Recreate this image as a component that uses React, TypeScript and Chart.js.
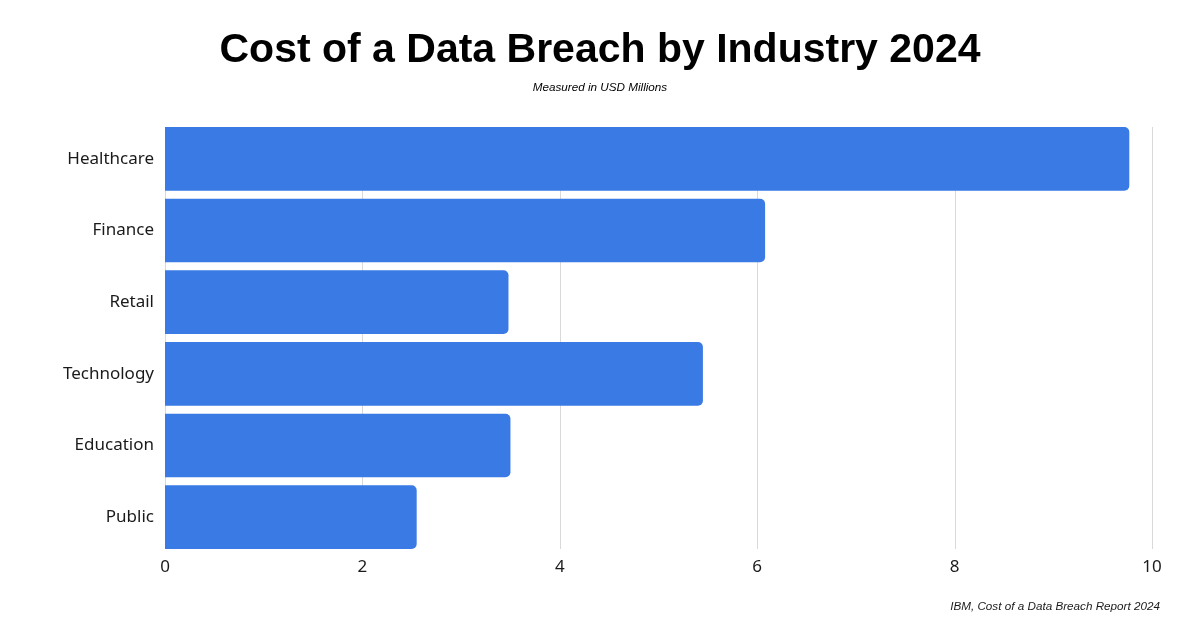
import React, { useEffect, useRef } from "react";
import { Chart, registerables } from "chart.js";

Chart.register(...registerables);

const industries = ["Healthcare", "Finance", "Retail", "Technology", "Education", "Public"];
const costMillions = [9.77, 6.08, 3.48, 5.45, 3.5, 2.55];
const xTicks = [0, 2, 4, 6, 8, 10];

const titleText = "Cost of a Data Breach by Industry 2024";
const subtitleText = "Measured in USD Millions";
const sourceText = "IBM, Cost of a Data Breach Report 2024";

// Draws the vertical x grid lines only across the span covered by the bars
const gridPlugin = {
  id: "barSpanGrid",
  beforeDatasetsDraw(chart: any) {
    const meta = chart.getDatasetMeta(0);
    const bars = meta.data;
    if (!bars || !bars.length) return;
    const first = bars[0].getProps(["y", "height"], true);
    const last = bars[bars.length - 1].getProps(["y", "height"], true);
    const top = first.y - first.height / 2;
    const bottom = last.y + last.height / 2;
    const xScale = chart.scales.x;
    const ctx = chart.ctx;
    ctx.save();
    ctx.strokeStyle = "#d9d9d9";
    ctx.lineWidth = 1;
    xScale.ticks.forEach((t: any) => {
      const px = Math.round(xScale.getPixelForValue(t.value)) + 0.5;
      ctx.beginPath();
      ctx.moveTo(px, top);
      ctx.lineTo(px, bottom);
      ctx.stroke();
    });
    ctx.restore();
  },
};

export default function App() {
  const canvasRef = useRef<HTMLCanvasElement | null>(null);

  useEffect(() => {
    if (!canvasRef.current) return;
    const chart = new Chart(canvasRef.current, {
      type: "bar",
      data: {
        labels: industries,
        datasets: [
          {
            data: costMillions,
            backgroundColor: "#3a7ae4",
            borderWidth: 0,
            borderRadius: 5,
            borderSkipped: "start",
            barPercentage: 0.888,
            categoryPercentage: 1,
          },
        ],
      },
      options: {
        indexAxis: "y",
        animation: false,
        responsive: false,
        maintainAspectRatio: false,
        layout: { padding: { top: 123, right: 48, left: 0, bottom: 0 } },
        plugins: {
          legend: { display: false },
          tooltip: { enabled: false },
          title: { display: false },
        },
        scales: {
          x: {
            min: 0,
            max: 10,
            afterBuildTicks: (scale: any) => {
              scale.ticks = xTicks.map((v) => ({ value: v }));
            },
            afterFit: (scale: any) => {
              scale.height = 75;
            },
            grid: { display: false, drawTicks: false },
            border: { display: false },
            ticks: {
              padding: 4,
              color: "#1a1a1a",
              font: { family: "'Noto Sans', sans-serif", size: 17 },
            },
          },
          y: {
            afterFit: (scale: any) => {
              scale.width = 165;
            },
            grid: { display: false, drawTicks: false },
            border: { display: false },
            ticks: {
              padding: 11,
              color: "#1a1a1a",
              font: { family: "'Noto Sans', sans-serif", size: 17 },
            },
          },
        },
      },
      plugins: [gridPlugin],
    });
    return () => chart.destroy();
  }, []);

  return (
    <div
      style={{
        position: "absolute",
        left: 0,
        top: 0,
        width: 1200,
        height: 628,
        background: "#ffffff",
        overflow: "hidden",
      }}
    >
      <canvas ref={canvasRef} width={1200} height={628} style={{ position: "absolute", left: 0, top: 0 }} />
      <div
        style={{
          position: "absolute",
          left: 0,
          top: 22,
          width: 1200,
          textAlign: "center",
          fontFamily: "'Liberation Sans', Arial, sans-serif",
          fontWeight: 700,
          fontSize: 41,
          lineHeight: "52px",
          color: "#000",
        }}
      >
        {titleText}
      </div>
      <div
        style={{
          position: "absolute",
          left: 0,
          top: 80,
          width: 1200,
          textAlign: "center",
          fontFamily: "'Liberation Sans', Arial, sans-serif",
          fontStyle: "italic",
          fontSize: 11.7,
          lineHeight: "14px",
          color: "#000",
        }}
      >
        {subtitleText}
      </div>
      <div
        style={{
          position: "absolute",
          right: 40,
          top: 598,
          fontFamily: "'Liberation Sans', Arial, sans-serif",
          fontStyle: "italic",
          fontSize: 11.7,
          lineHeight: "16px",
          color: "#1a1a1a",
          whiteSpace: "nowrap",
        }}
      >
        {sourceText}
      </div>
    </div>
  );
}
